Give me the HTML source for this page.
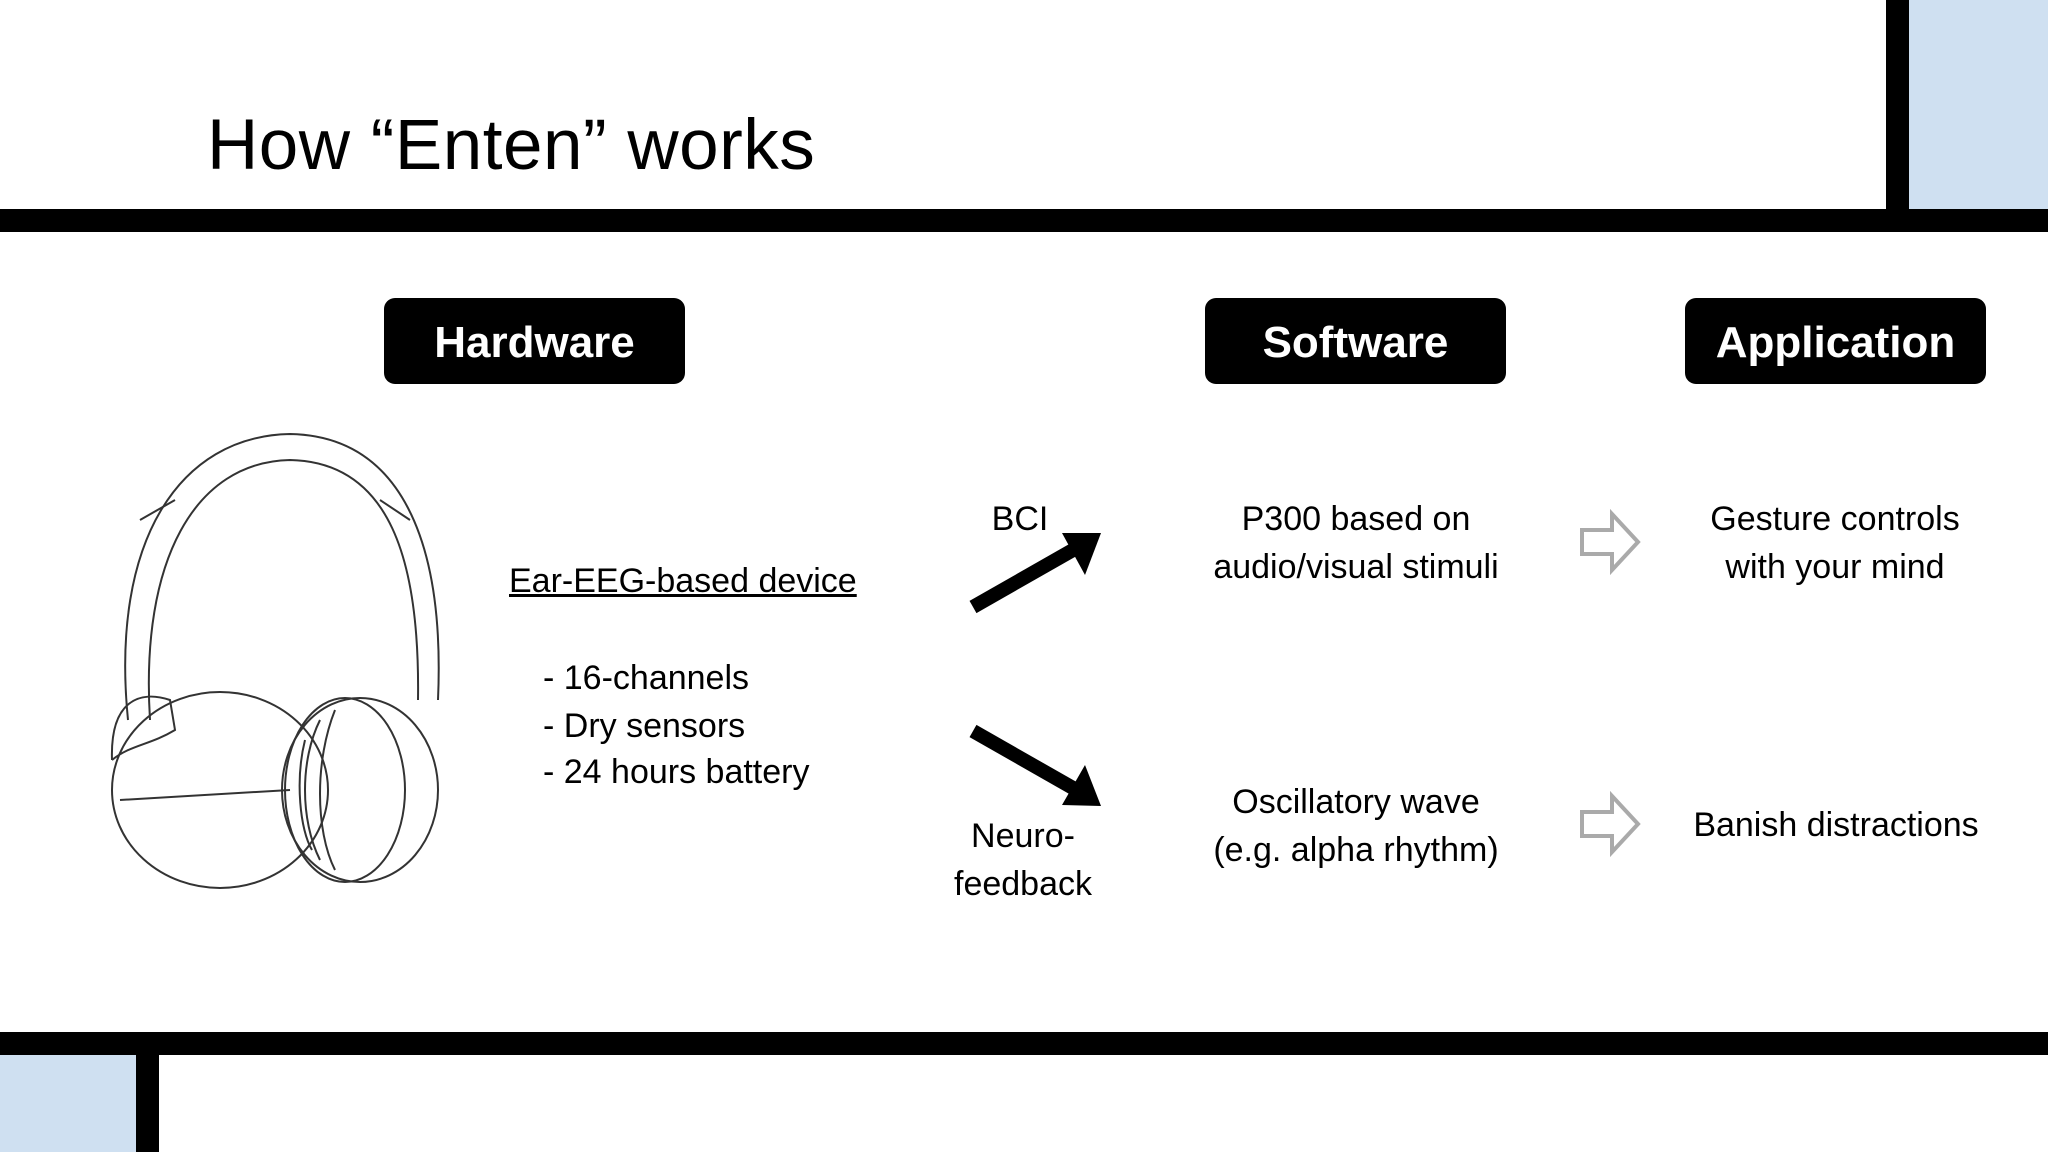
<!DOCTYPE html>
<html><head><meta charset="utf-8"><style>
body{margin:0;width:2048px;height:1152px;position:relative;background:#fff;font-family:"Liberation Sans",sans-serif;overflow:hidden}
.a{position:absolute}
.btn{position:absolute;background:#000;color:#fff;border-radius:11px;font-weight:bold;font-size:44px;display:flex;align-items:center;justify-content:center;width:301px;height:86px;top:298px;padding-top:4px;box-sizing:border-box}
.t{position:absolute;font-size:34px;color:#000;white-space:nowrap;line-height:48px}
.c{transform:translateX(-50%);text-align:center}
</style></head><body>
<div class="a" style="left:0;top:209px;width:2048px;height:23px;background:#000"></div>
<div class="a" style="left:1886px;top:0;width:23px;height:209px;background:#000"></div>
<div class="a" style="left:1909px;top:0;width:139px;height:209px;background:#cfe0f1"></div>
<div class="a" style="left:0;top:1032px;width:2048px;height:23px;background:#000"></div>
<div class="a" style="left:136px;top:1055px;width:23px;height:97px;background:#000"></div>
<div class="a" style="left:0;top:1055px;width:136px;height:97px;background:#cfe0f1"></div>
<div class="t" style="left:207px;top:106px;font-size:71px;line-height:80px;letter-spacing:0.5px">How “Enten” works</div>
<div class="btn" style="left:384px">Hardware</div>
<div class="btn" style="left:1205px">Software</div>
<div class="btn" style="left:1685px">Application</div>
<div class="t c" style="left:1020px;top:495px">BCI</div>
<div class="t" style="left:509px;top:557px;text-decoration:underline">Ear-EEG-based device</div>
<div class="t" style="left:543px;top:654px">- 16-channels</div>
<div class="t" style="left:543px;top:702px">- Dry sensors</div>
<div class="t" style="left:543px;top:748px">- 24 hours battery</div>
<div class="t c" style="left:1356px;top:495px">P300 based on<br>audio/visual stimuli</div>
<div class="t c" style="left:1835px;top:495px">Gesture controls<br>with your mind</div>
<div class="t c" style="left:1356px;top:778px">Oscillatory wave<br>(e.g. alpha rhythm)</div>
<div class="t c" style="left:1836px;top:801px">Banish distractions</div>
<div class="t c" style="left:1023px;top:812px">Neuro-<br>feedback</div>
<svg class="a" style="left:0;top:0" width="2048" height="1152">
<line x1="973" y1="607" x2="1080" y2="546" stroke="#000" stroke-width="14"/>
<polygon points="1101,533 1062,533 1085,575" fill="#000"/>
<line x1="973" y1="731" x2="1080" y2="792" stroke="#000" stroke-width="14"/>
<polygon points="1101,806 1085,765 1062,805" fill="#000"/>
<g fill="none" stroke="#aaa" stroke-width="4">
<polygon points="1582,530 1612,530 1612,514 1638,542 1612,570 1612,554 1582,554"/>
<polygon points="1582,812 1612,812 1612,796 1638,824 1612,852 1612,836 1582,836"/>
</g>
<g fill="none" stroke="#333" stroke-width="2">
<path d="M128,720 C110,540 180,436 290,434 C400,436 445,540 438,700"/>
<path d="M150,720 C140,560 195,462 290,460 C390,462 420,560 418,700"/>
<path d="M140,520 L175,500 M380,500 L410,520"/>
<ellipse cx="220" cy="790" rx="108" ry="98"/>
<path d="M112,760 C110,700 140,690 170,700 L175,730 C150,745 130,745 112,760"/>
<ellipse cx="360" cy="790" rx="78" ry="92"/>
<ellipse cx="345" cy="790" rx="60" ry="92"/>
<path d="M320,720 C300,760 300,820 320,860 M335,710 C315,760 315,830 335,870 M305,740 C295,780 300,830 312,850"/>
<path d="M120,800 L290,790"/>
</g>
</svg>
</body></html>
